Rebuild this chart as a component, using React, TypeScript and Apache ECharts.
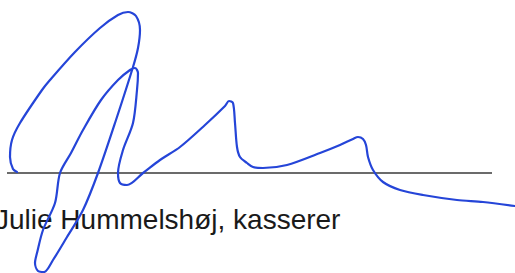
import React, { useEffect, useRef } from "react";
import * as echarts from "echarts";

// Signature stroke, traced in order (pixel space of a 515x273 canvas)
const sigX = [17, 13, 10, 12, 20, 42, 50, 75, 100, 118, 128, 136, 140, 138, 133, 116, 98, 83, 67, 53, 44, 38, 35, 37, 43, 55, 60, 71, 83, 101, 118, 130, 135, 138, 137, 133, 123, 118, 120, 127, 143, 160, 180, 205, 225, 229, 233, 235, 237, 240, 247, 253, 263, 287, 320, 340, 353, 358, 363, 366, 368, 373, 383, 400, 423, 457, 483, 515];
const sigY = [172, 169, 157, 140, 123, 90, 80, 52, 28, 15, 12, 16, 30, 48, 67, 120, 173, 210, 237, 260, 272, 271, 263, 253, 230, 203, 173, 153, 130, 100, 80, 70, 68, 73, 90, 123, 150, 173, 183, 185, 173, 160, 147, 125, 106, 101, 103, 123, 147, 157, 163, 167, 168, 165, 153, 145, 139, 137, 139, 145, 157, 170, 182, 190, 195, 200, 202, 206];

// Signature rule line
const ruleX = [7, 492];
const ruleY = [173, 173];

const caption = "Julie Hummelshøj, kasserer";

export default function App() {
  const ref = useRef<HTMLDivElement>(null);
  useEffect(() => {
    document.body.style.margin = "0";
    const chart = echarts.init(ref.current!, null, { renderer: "svg" });
    chart.setOption({
      animation: false,
      backgroundColor: "#ffffff",
      grid: { left: 0, right: 0, top: 0, bottom: 0 },
      xAxis: { type: "value", min: 0, max: 515, show: false },
      yAxis: { type: "value", min: 0, max: 273, inverse: true, show: false },
      graphic: [
        {
          type: "text",
          x: -5,
          y: 219,
          z: 0,
          style: {
            text: caption,
            font: "28px 'Liberation Sans', Arial, sans-serif",
            fill: "#1a1a1a",
            verticalAlign: "middle",
          },
        },
      ],
      series: [
        {
          type: "line",
          data: ruleX.map((x, i) => [x, ruleY[i]]),
          symbol: "none",
          lineStyle: { color: "#3a3a3a", width: 1.4 },
          z: 1,
        },
        {
          type: "line",
          data: sigX.map((x, i) => [x, sigY[i]]),
          symbol: "none",
          smooth: 0.3,
          lineStyle: { color: "#2545d8", width: 2.2, cap: "round", join: "round" },
          z: 3,
        },
      ],
    });
    return () => chart.dispose();
  }, []);
  return <div ref={ref} style={{ width: 515, height: 273 }} />;
}
